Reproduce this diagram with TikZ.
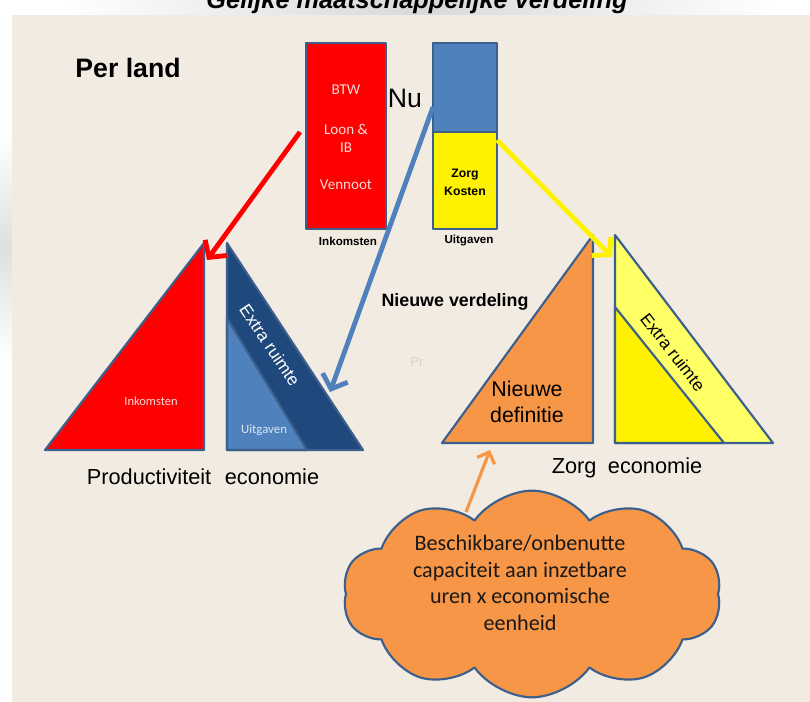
\documentclass[tikz,border=0pt]{standalone}
\usepackage{fontspec}
\setmainfont{Liberation Sans}
\newfontfamily\calib{Carlito}
\usetikzlibrary{arrows.meta,shapes.symbols,calc}
\definecolor{panel}{HTML}{F1EBE2}
\definecolor{edge}{HTML}{3C5F8C}
\definecolor{offblue}{HTML}{4F81BD}
\definecolor{darkblue}{HTML}{1F497D}
\definecolor{offorange}{HTML}{F79646}
\definecolor{lightyellow}{HTML}{FFFF66}
\definecolor{pinktext}{HTML}{F7D9D9}
\definecolor{paleblue}{HTML}{DCE6F2}
\definecolor{faint}{HTML}{D9D4CB}
\begin{document}
\begin{tikzpicture}[x=0.75pt,y=-0.75pt,
  outline/.style={draw=edge, line width=1.6pt, line join=round},
  box/.style={outline, rectangle, inner sep=0pt},
  bigarrow/.style={line width=3.6pt, -{Straight Barb[length=9pt,width=20pt]}},
  smallarrow/.style={line width=2.4pt, -{Straight Barb[length=7pt,width=14pt]}},
  boxtext/.style={font=\calib\fontsize{11.3}{13}\selectfont, text=pinktext, inner sep=0pt},
  undertext/.style={font=\bfseries\fontsize{8.7}{10}\selectfont, inner sep=0pt},
  caption/.style={font=\fontsize{16.3}{19}\selectfont, inner sep=0pt},
  slanttext/.style={font=\fontsize{13}{15}\selectfont, inner sep=0pt},
]
\useasboundingbox (0,0) rectangle (810,702);
\clip (0,0) rectangle (810,702);
% background
\fill[white] (0,0) rectangle (810,702);
\fill[left color=white, right color=white, middle color=gray!30] (60,0) rectangle (780,15);
\fill[top color=white, bottom color=white, middle color=gray!25] (0,135) rectangle (12,360);
\fill[panel] (12,15) rectangle (810,702);
\node[font=\bfseries\itshape\fontsize{19}{22}\selectfont, anchor=base, inner sep=0pt] (title) at (417,9) {Gelijke maatschappelijke verdeling};

% labels
\node[font=\bfseries\fontsize{20}{24}\selectfont, inner sep=0pt] (perland) at (128,68) {Per land};
\node[font=\fontsize{20}{24}\selectfont, inner sep=0pt] (nu) at (405,98) {Nu};

% boxes
\node[box, fill=red, minimum width=60pt, minimum height=139.5pt] (inkbox) at (346,136) {};
\node[box, fill=offblue, minimum width=48pt, minimum height=66.75pt] (uitbox) at (465,87.5) {};
\node[box, fill=yellow, minimum width=48pt, minimum height=72.75pt] (zorgbox) at (465,180.5) {};
\node[boxtext] (btw) at (346,90) {BTW};
\node[boxtext] (loon) at (346,129) {Loon \&};
\node[boxtext] (ib) at (346,148) {IB};
\node[boxtext] (vennoot) at (346,185) {Vennoot};
\node[font=\bfseries\fontsize{9.2}{13.5}\selectfont, align=center, inner sep=0pt] (zorgk) at (465,182) {Zorg\\Kosten};
\node[undertext] (inkl) at (348,241) {Inkomsten};
\node[undertext] (uitl) at (469,241) {Uitgaven};

% left triangles
\draw[outline, fill=red] (204,243) -- (45,450) -- (204,450) -- cycle;
\draw[outline, fill=darkblue] (227,243) -- (227,450) -- (363,450) -- cycle;
\draw[outline, fill=offblue] (227,318) -- (227,450) -- (307,450) -- cycle;
\node[font=\calib\fontsize{9.4}{11}\selectfont, text=pinktext, inner sep=0pt] (inkt) at (151,401) {Inkomsten};
\node[font=\calib\fontsize{9.6}{11}\selectfont, text=paleblue, inner sep=0pt] (uitt) at (264,430) {Uitgaven};
\node[slanttext, text=white, rotate=-56] (extra1) at (270,345) {Extra ruimte};
\node[caption] (prod) at (203,477) {Productiviteit\hspace{0.35em} economie};

% right triangles
\draw[outline, fill=offorange] (593,235) -- (442,443) -- (593,443) -- cycle;
\draw[outline, fill=lightyellow] (615,235) -- (615,443) -- (773,443) -- cycle;
\draw[outline, fill=yellow] (615,307) -- (615,443) -- (724,443) -- cycle;
\node[slanttext, rotate=-52] (extra2) at (673,352) {Extra ruimte};
\node[font=\fontsize{16}{19}\selectfont, align=center, inner sep=0pt] (nieuwdef) at (527,402) {Nieuwe\\definitie};
\node[caption] (zorgec) at (627,468) {Zorg\hspace{0.25em} economie};

\node[font=\bfseries\fontsize{13.4}{16}\selectfont, inner sep=0pt] (verdeling) at (455,302) {Nieuwe verdeling};
\node[font=\fontsize{10}{12}\selectfont, text=faint, inner sep=0pt] (pr) at (417,362) {Pr};

% cloud
\node[cloud, cloud puffs=10, cloud puff arc=110, aspect=2.0, outline, fill=offorange,
      minimum width=284pt, minimum height=155pt, inner sep=0pt] (cloud) at (532,594) {};
\node[font=\calib\fontsize{16.6}{20}\selectfont, align=center, text=black!90, inner sep=0pt] (cloudtext) at (520,583)
  {Beschikbare/onbenutte\\capaciteit aan inzetbare\\uren x economische\\eenheid};

% connectors
\coordinate (redstart) at (300,132);
\coordinate (redtip) at (207,260);
\coordinate (bluestart) at (433,107);
\coordinate (bluetip) at (330,392);
\coordinate (yelstart) at (497,140);
\coordinate (yeltip) at (612,257);
\coordinate (orstart) at (466,512);
\coordinate (ortip) at (490,450);
\draw[bigarrow, red] (redstart) -- (redtip);
\draw[bigarrow, offblue] (bluestart) -- (bluetip);
\draw[bigarrow, yellow] (yelstart) -- (yeltip);
\draw[smallarrow, offorange] (orstart) -- (ortip);
\end{tikzpicture}
\end{document}
